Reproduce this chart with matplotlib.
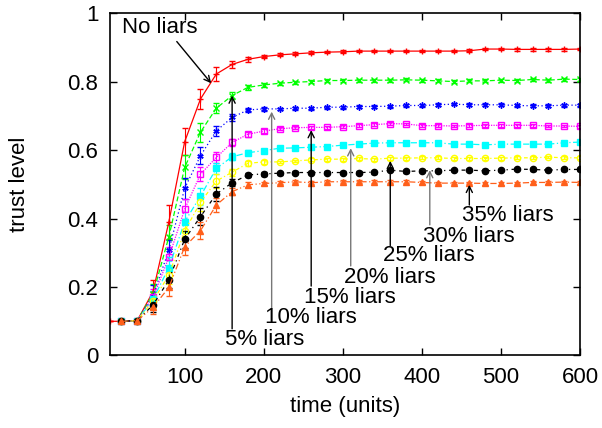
import matplotlib
matplotlib.use('Agg')
import matplotlib.pyplot as plt

# time axis (units)
times = [20, 40, 60, 80, 100, 120, 140, 160, 180, 200,
         220, 240, 260, 280, 300, 320, 340, 360, 380, 400,
         420, 440, 460, 480, 500, 520, 540, 560, 580, 600]
red_times = [5] + times

# trust level per liar percentage
no_liars = [0.100, 0.100, 0.102, 0.187, 0.391, 0.625, 0.750, 0.823, 0.851, 0.866, 0.874,
            0.879, 0.882, 0.885, 0.887, 0.888, 0.890, 0.890, 0.890, 0.890, 0.890,
            0.890, 0.890, 0.891, 0.896, 0.896, 0.895, 0.895, 0.895, 0.895, 0.896]
liars_5 = [0.100, 0.102, 0.180, 0.347, 0.550, 0.653, 0.723, 0.760, 0.784, 0.791,
           0.796, 0.799, 0.801, 0.804, 0.804, 0.805, 0.805, 0.805, 0.806, 0.805,
           0.803, 0.801, 0.803, 0.803, 0.805, 0.804, 0.807, 0.805, 0.808, 0.807]
liars_10 = [0.100, 0.102, 0.175, 0.308, 0.489, 0.584, 0.657, 0.696, 0.718, 0.721,
            0.721, 0.723, 0.723, 0.726, 0.726, 0.728, 0.728, 0.729, 0.731, 0.731,
            0.733, 0.735, 0.733, 0.733, 0.733, 0.731, 0.730, 0.730, 0.732, 0.732]
liars_15 = [0.100, 0.102, 0.170, 0.287, 0.428, 0.530, 0.579, 0.623, 0.647, 0.656,
            0.663, 0.666, 0.667, 0.667, 0.669, 0.672, 0.675, 0.678, 0.677, 0.672,
            0.672, 0.671, 0.672, 0.673, 0.673, 0.673, 0.673, 0.671, 0.671, 0.670]
liars_20 = [0.100, 0.102, 0.165, 0.257, 0.391, 0.466, 0.547, 0.581, 0.593, 0.599,
            0.606, 0.607, 0.609, 0.611, 0.615, 0.618, 0.621, 0.622, 0.622, 0.622,
            0.622, 0.618, 0.618, 0.616, 0.618, 0.618, 0.618, 0.618, 0.622, 0.624]
liars_25 = [0.100, 0.102, 0.160, 0.235, 0.364, 0.448, 0.510, 0.536, 0.562, 0.566,
            0.566, 0.569, 0.572, 0.574, 0.574, 0.576, 0.574, 0.577, 0.577, 0.578,
            0.578, 0.576, 0.576, 0.576, 0.577, 0.578, 0.578, 0.580, 0.578, 0.578]
liars_30 = [0.100, 0.102, 0.148, 0.221, 0.340, 0.406, 0.472, 0.505, 0.528, 0.531,
            0.533, 0.535, 0.535, 0.535, 0.535, 0.535, 0.536, 0.542, 0.538, 0.540,
            0.540, 0.542, 0.542, 0.540, 0.542, 0.545, 0.544, 0.542, 0.544, 0.544]
liars_35 = [0.100, 0.102, 0.141, 0.199, 0.318, 0.365, 0.440, 0.479, 0.499, 0.503,
            0.505, 0.508, 0.505, 0.508, 0.508, 0.508, 0.508, 0.508, 0.508, 0.506,
            0.504, 0.504, 0.504, 0.503, 0.503, 0.504, 0.506, 0.506, 0.507, 0.506]

# error bar half-widths
no_liars_err = [0.0, 0.0, 0.004, 0.035, 0.05, 0.04, 0.03, 0.02, 0.01, 0.007, 0.005,
                0.004, 0.004, 0.004, 0.004, 0.004, 0.004, 0.004, 0.004, 0.004, 0.004,
                0.004, 0.004, 0.004, 0.004, 0.004, 0.004, 0.004, 0.004, 0.004, 0.004]
liars_5_err = [0.0, 0.004, 0.03, 0.035, 0.035, 0.028, 0.015, 0.01, 0.007, 0.005,
               0.004, 0.004, 0.004, 0.004, 0.004, 0.004, 0.004, 0.004, 0.004, 0.004,
               0.004, 0.004, 0.004, 0.004, 0.004, 0.004, 0.004, 0.004, 0.004, 0.004]
liars_10_err = [0.0, 0.004, 0.03, 0.03, 0.03, 0.025, 0.015, 0.01, 0.007, 0.005,
                0.004, 0.004, 0.004, 0.004, 0.004, 0.004, 0.004, 0.004, 0.004, 0.004,
                0.004, 0.004, 0.004, 0.004, 0.004, 0.004, 0.004, 0.004, 0.004, 0.004]
liars_15_err = [0.0, 0.004, 0.025, 0.03, 0.03, 0.02, 0.015, 0.01, 0.007, 0.005,
                0.004, 0.004, 0.004, 0.004, 0.004, 0.004, 0.004, 0.004, 0.004, 0.004,
                0.004, 0.004, 0.004, 0.004, 0.004, 0.004, 0.004, 0.004, 0.004, 0.004]
liars_20_err = [0.0, 0.004, 0.025, 0.03, 0.03, 0.025, 0.015, 0.01, 0.007, 0.005,
                0.004, 0.004, 0.004, 0.004, 0.004, 0.004, 0.004, 0.004, 0.004, 0.004,
                0.004, 0.004, 0.004, 0.004, 0.004, 0.004, 0.004, 0.004, 0.004, 0.004]
liars_25_err = [0.0, 0.004, 0.02, 0.025, 0.025, 0.025, 0.02, 0.01, 0.007, 0.005,
                0.004, 0.004, 0.004, 0.004, 0.004, 0.004, 0.004, 0.004, 0.004, 0.004,
                0.004, 0.004, 0.004, 0.004, 0.004, 0.004, 0.004, 0.004, 0.004, 0.004]
liars_30_err = [0.0, 0.004, 0.02, 0.025, 0.025, 0.025, 0.02, 0.01, 0.007, 0.005,
                0.004, 0.004, 0.004, 0.004, 0.004, 0.004, 0.004, 0.004, 0.004, 0.004,
                0.004, 0.004, 0.004, 0.004, 0.004, 0.004, 0.004, 0.004, 0.004, 0.004]
liars_35_err = [0.0, 0.004, 0.02, 0.025, 0.025, 0.025, 0.02, 0.01, 0.007, 0.005,
                0.004, 0.004, 0.004, 0.004, 0.004, 0.004, 0.004, 0.004, 0.004, 0.004,
                0.004, 0.004, 0.004, 0.004, 0.004, 0.004, 0.004, 0.004, 0.004, 0.004]

# annotations
label_texts = ['5% liars', '10% liars', '15% liars', '20% liars',
               '25% liars', '30% liars', '35% liars']
arrow_x = [160, 210, 260, 310, 360, 410, 460]
arrow_head = [0.760, 0.713, 0.659, 0.606, 0.569, 0.542, 0.499]
arrow_tail = [0.078, 0.139, 0.203, 0.262, 0.321, 0.382, 0.440]
label_y = [0.048, 0.110, 0.171, 0.228, 0.291, 0.347, 0.409]

plt.rcParams['font.family'] = ['Liberation Sans', 'DejaVu Sans']
plt.rcParams['font.size'] = 16

fig = plt.figure(figsize=(6.02, 4.28), dpi=100)
ax = fig.add_axes([0.182, 0.1694, 0.7815, 0.7991])

series = [
    (red_times, no_liars, no_liars_err, '#ff0000', '+', '-', 'full'),
    (times, liars_5, liars_5_err, '#00ff00', 'x', (0, (4, 2)), 'full'),
    (times, liars_10, liars_10_err, '#0000ff', (6, 2, 0), (0, (1, 2)), 'full'),
    (times, liars_15, liars_15_err, '#ff00ff', 's', (0, (1, 1)), 'none'),
    (times, liars_20, liars_20_err, '#00ffff', 's', (0, (5, 2, 1, 2)), 'full'),
    (times, liars_25, liars_25_err, '#ffff00', 'o', (0, (3, 2, 1, 2)), 'none'),
    (times, liars_30, liars_30_err, '#000000', 'o', (0, (1, 3, 3, 3)), 'full'),
    (times, liars_35, liars_35_err, '#ff5f1a', '^', (0, (5, 2, 1, 2, 1, 2)), 'full'),
]

for xs, ys, errs, color, marker, ls, fill in series:
    ax.errorbar(xs, ys, yerr=errs, color=color, marker=marker, linestyle=ls,
                linewidth=0.9, markersize=4.5, markeredgewidth=1.0,
                fillstyle=fill, capsize=2.5, elinewidth=0.8, capthick=0.8)

# "No liars" label
ax.annotate('', xy=(133.5, 0.796), xytext=(90, 0.918),
            arrowprops=dict(arrowstyle='->', color='black', lw=1.0,
                            mutation_scale=11, shrinkA=0, shrinkB=0))
ax.text(21, 0.958, 'No liars', ha='left', va='center', fontsize=16)

for i in range(len(label_texts)):
    col = 'black' if i % 2 == 0 else '#777777'
    ax.annotate('', xy=(arrow_x[i], arrow_head[i]), xytext=(arrow_x[i], arrow_tail[i]),
                arrowprops=dict(arrowstyle='->', color=col, lw=1.0,
                                mutation_scale=11, shrinkA=0, shrinkB=0))
    ax.text(arrow_x[i] - 9, label_y[i], label_texts[i], ha='left', va='center',
            fontsize=16)

ax.set_xlim(5, 600)
ax.set_ylim(0, 1)
ax.set_xticks([100, 200, 300, 400, 500, 600])
ax.set_yticks([0, 0.2, 0.4, 0.6, 0.8, 1.0])
ax.set_yticklabels(['0', '0.2', '0.4', '0.6', '0.8', '1'])
ax.tick_params(direction='in', length=5, width=1, top=True, right=True,
               labelsize=16, pad=8)
for s in ax.spines.values():
    s.set_linewidth(1.2)

ax.set_xlabel('time (units)', fontsize=16, labelpad=6)
ax.set_ylabel('trust level', fontsize=16, labelpad=27)

fig.savefig('out.png', dpi=100)
